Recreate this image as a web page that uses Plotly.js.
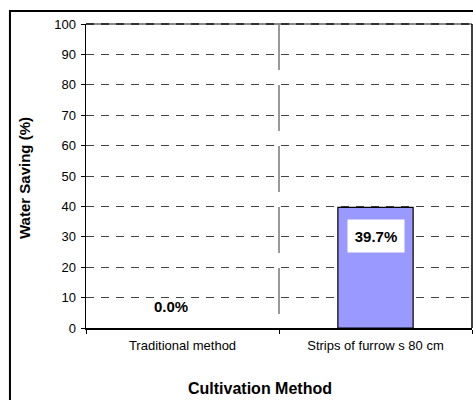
<!DOCTYPE html>
<html>
<head>
<meta charset="utf-8">
<script src="https://cdn.plot.ly/plotly-3.0.1.min.js"></script>
<style>html,body{margin:0;padding:0;background:#fff;}#chart{width:473px;height:400px;}</style>
</head>
<body>
<div id="chart"></div>
<script>
var categories = ["Traditional method", "Strips of furrow s 80 cm"];
var waterSaving = [0.0, 39.7];
var labelTexts = ["0.0%", "39.7%"];
var yTicks = [0, 10, 20, 30, 40, 50, 60, 70, 80, 90, 100];
var xTitle = "Cultivation Method";
var yTitle = "Water Saving (%)";

var FONT = "Arial, 'Liberation Sans', sans-serif";

var trace = {
  type: "bar",
  x: categories,
  y: waterSaving,
  width: 0.39,
  marker: {color: "#9999FF", line: {color: "#000000", width: waterSaving.map(function (v) { return v > 0 ? 1.2 : 0; })}},
  hoverinfo: "none"
};

var annotations = categories.map(function (c, i) {
  var big = waterSaving[i] > 5;
  return {
    x: c, y: waterSaving[i], xref: "x", yref: "y",
    text: "<b>" + labelTexts[i] + "</b>",
    showarrow: false,
    font: {family: FONT, size: 15, color: "#000"},
    bgcolor: big ? "#ffffff" : "rgba(0,0,0,0)",
    width: big ? 54 : null,
    height: big ? 30 : null,
    yanchor: big ? "top" : "bottom",
    yshift: big ? -12 : 11,
    xshift: big ? 0 : -12
  };
});

annotations.push({
  xref: "paper", yref: "paper", x: (260 - 86) / 386, y: -(388 - 328) / 304,
  xanchor: "center", yanchor: "middle", showarrow: false,
  text: "<b>" + xTitle + "</b>",
  font: {family: FONT, size: 16, color: "#000"}
});
annotations.push({
  xref: "paper", yref: "paper", x: (24 - 86) / 386, y: (328 - 178) / 304,
  xanchor: "center", yanchor: "middle", showarrow: false, textangle: -90,
  text: "<b>" + yTitle + "</b>",
  font: {family: FONT, size: 15, color: "#000"}
});

var layout = {
  width: 473, height: 400,
  margin: {l: 86, r: 1, t: 24, b: 72, pad: 0},
  paper_bgcolor: "#ffffff",
  plot_bgcolor: "#ffffff",
  showlegend: false,
  font: {family: FONT, size: 13, color: "#000"},
  xaxis: {
    type: "category",
    tickson: "boundaries",
    ticks: "outside", ticklen: 4, tickcolor: "#000", tickwidth: 1,
    showline: true, linecolor: "#000", linewidth: 2,
    showgrid: false, zeroline: false,
    ticklabelstandoff: 4,
    tickfont: {family: FONT, size: 13, color: "#000"}
  },
  yaxis: {
    range: [0, 100],
    tickvals: yTicks,
    ticks: "outside", ticklen: 4, tickcolor: "#000", tickwidth: 1,
    showline: true, linecolor: "#000", linewidth: 1.5,
    showgrid: true, gridcolor: "#444444", gridwidth: 1, griddash: "8px,7px",
    zeroline: false,
    ticklabelstandoff: 2,
    tickfont: {family: FONT, size: 13, color: "#000"}
  },
  annotations: annotations,
  shapes: [
    {type: "line", xref: "x", yref: "y", x0: 0.5, x1: 0.5, y0: 100, y1: 0,
     line: {color: "#333333", width: 1, dash: "46px,15px"}, layer: "below"},
    {type: "line", xref: "paper", yref: "paper", x0: 0, x1: 1, y0: 1, y1: 1,
     line: {color: "#888888", width: 2}},
    {type: "line", xref: "paper", yref: "paper", x0: 0, x1: 1, y0: 1, y1: 1,
     line: {color: "#333333", width: 2, dash: "8px,7px"}},
    {type: "line", xref: "paper", yref: "paper", x0: 1, x1: 1, y0: 0, y1: 1,
     line: {color: "#000", width: 1.5}},
    {type: "rect", xref: "paper", yref: "paper", x0: -0.197, x1: 1.05, y0: -0.3, y1: 1.043,
     line: {color: "#000", width: 2}, fillcolor: "rgba(0,0,0,0)"}
  ]
};

Plotly.newPlot("chart", [trace], layout, {displayModeBar: false, staticPlot: true});
</script>
</body>
</html>
